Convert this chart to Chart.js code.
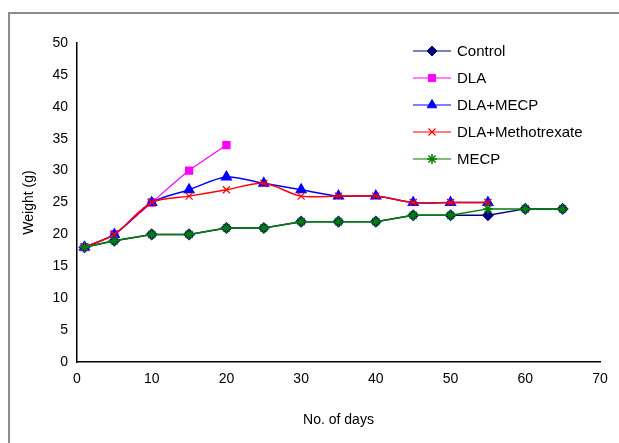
<!DOCTYPE html>
<html>
<head>
<meta charset="utf-8">
<script src="https://cdn.jsdelivr.net/npm/chart.js@4.4.0/dist/chart.umd.min.js"></script>
<style>
  html, body { margin: 0; padding: 0; background: #fff; }
  #wrap { position: relative; width: 619px; height: 443px; }
  #frame { position: absolute; left: 8px; top: 12px; right: -4px; bottom: -4px;
           border-left: 2px solid #8c8c8c; border-top: 2px solid #8c8c8c; }
  canvas { position: absolute; left: 0; top: 0; }
</style>
</head>
<body>
<div id="wrap">
  <div id="frame"></div>
  <canvas id="weightChart" width="619" height="443"></canvas>
</div>
<script>
// days of observation
var days = [1, 5, 10, 15, 20, 25, 30, 35, 40, 45, 50, 55, 60, 65];

// body weight (g) per group
var control = [18, 19, 20, 20, 21, 21, 22, 22, 22, 23, 23, 23, 24, 24];
var dla = [18, 20, 25, 30, 34];
var dlaMecp = [18, 20, 25, 27, 29, 28, 27, 26, 26, 25, 25, 25];
var dlaMtx = [18, 20, 25, 26, 27, 28, 26, 26, 26, 25, 25, 25];
var mecp = [18, 19, 20, 20, 21, 21, 22, 22, 22, 23, 23, 24, 24, 24];

var yTicks = [0, 5, 10, 15, 20, 25, 30, 35, 40, 45, 50];
var xTicks = [0, 10, 20, 30, 40, 50, 60, 70];

function pts(vals) {
    return vals.map(function (v, i) { return {x: days[i], y: v}; });
}

var FONT = 'Liberation Sans, Arial, sans-serif';

// legend drawn inside the plot, Excel style
var insideLegend = {
    id: 'insideLegend',
    afterDraw: function (chart) {
        var c = chart.ctx;
        c.save();
        chart.data.datasets.forEach(function (ds, k) {
            var y = 51 + k * 27;
            c.strokeStyle = ds.borderColor;
            c.lineWidth = 1.2;
            c.beginPath();
            c.moveTo(413, y);
            c.lineTo(451, y);
            c.stroke();
            c.fillStyle = ds.pointBackgroundColor;
            c.strokeStyle = ds.pointBorderColor;
            c.lineWidth = ds.pointBorderWidth || 1;
            Chart.helpers.drawPoint(c, {
                pointStyle: ds.pointStyle,
                radius: ds.pointRadius,
                borderWidth: ds.pointBorderWidth || 1,
                rotation: 0
            }, 432, y);
            c.fillStyle = '#000';
            c.font = '15px ' + FONT;
            c.textBaseline = 'middle';
            c.textAlign = 'left';
            c.fillText(ds.label, 457, y + 1);
        });
        c.restore();
    }
};

var ctx = document.getElementById('weightChart').getContext('2d');
var chart = new Chart(ctx, {
    type: 'line',
    data: {
        datasets: [
            {
                label: 'Control', data: pts(control), order: 4,
                borderColor: '#000080', backgroundColor: '#000080',
                pointBackgroundColor: '#000080', pointBorderColor: '#000080',
                pointStyle: 'rectRot', pointRadius: 5, borderWidth: 1.5, tension: 0
            },
            {
                label: 'DLA', data: pts(dla), order: 3,
                borderColor: '#ff00ff', backgroundColor: '#ff00ff',
                pointBackgroundColor: '#ff00ff', pointBorderColor: '#ff00ff',
                pointStyle: 'rect', pointRadius: 5, borderWidth: 1.2, tension: 0.2
            },
            {
                label: 'DLA+MECP', data: pts(dlaMecp), order: 2,
                borderColor: '#0000ff', backgroundColor: '#0000ff',
                pointBackgroundColor: '#0000ff', pointBorderColor: '#0000ff',
                pointStyle: 'triangle', pointRadius: 5.5, borderWidth: 1.5, tension: 0.3
            },
            {
                label: 'DLA+Methotrexate', data: pts(dlaMtx), order: 1,
                borderColor: '#ff0000', backgroundColor: '#ff0000',
                pointBackgroundColor: '#ff0000', pointBorderColor: '#ff0000',
                pointStyle: 'crossRot', pointRadius: 5, pointBorderWidth: 1.2,
                borderWidth: 1.5, tension: 0.3
            },
            {
                label: 'MECP', data: pts(mecp), order: 0,
                borderColor: '#008000', backgroundColor: '#008000',
                pointBackgroundColor: '#008000', pointBorderColor: '#008000',
                pointStyle: 'star', pointRadius: 5, pointBorderWidth: 1.5,
                borderWidth: 1.5, tension: 0
            }
        ]
    },
    options: {
        responsive: false,
        animation: false,
        layout: { padding: { left: 14, top: 43, right: 19, bottom: 0 } },
        plugins: {
            legend: { display: false },
            tooltip: { enabled: false }
        },
        scales: {
            x: {
                type: 'linear', min: 0, max: 70,
                afterBuildTicks: function (s) { s.ticks = xTicks.map(function (v) { return {value: v}; }); },
                grid: { display: false, drawTicks: true, tickLength: 6, color: '#000' },
                border: { color: '#000', width: 1.5 },
                ticks: { color: '#000', font: { family: FONT, size: 14 }, padding: 3, maxRotation: 0 },
                title: { display: true, text: 'No. of days', color: '#000',
                         font: { family: FONT, size: 14 }, padding: { top: 6, bottom: 14 } },
                afterFit: function (s) { s.height = 81; }
            },
            y: {
                min: 0, max: 50,
                afterBuildTicks: function (s) { s.ticks = yTicks.map(function (v) { return {value: v}; }); },
                grid: { display: false, drawTicks: true, tickLength: 6, color: '#000' },
                border: { color: '#000', width: 1.5 },
                ticks: { color: '#000', font: { family: FONT, size: 14 }, padding: 3 },
                title: { display: true, text: 'Weight (g)', color: '#000',
                         font: { family: FONT, size: 14 }, padding: { top: 7, bottom: 4 } },
                afterFit: function (s) { s.width = 63; }
            }
        }
    },
    plugins: [insideLegend]
});
</script>
</body>
</html>
